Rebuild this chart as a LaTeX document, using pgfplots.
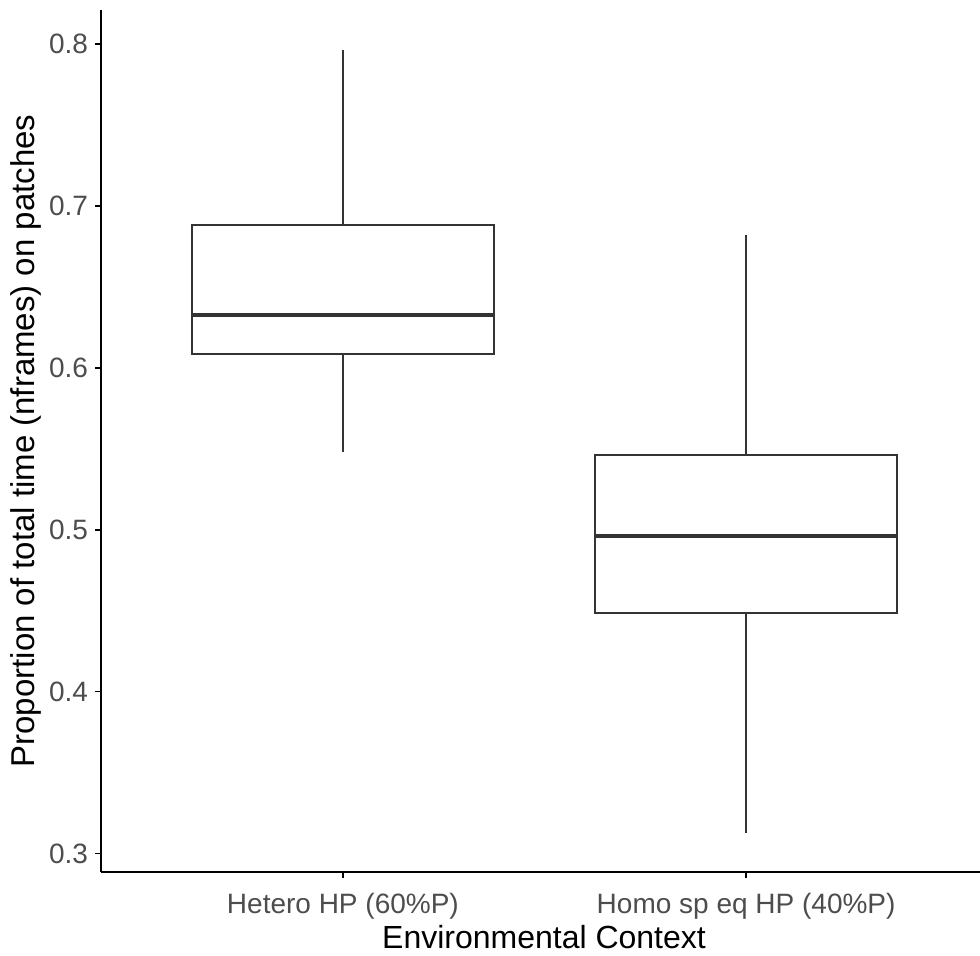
\documentclass[border=0pt]{standalone}
\usepackage{fontspec}
\setmainfont{Liberation Sans}
\usepackage{pgfplots}
\pgfplotsset{compat=1.18}
\usepgfplotslibrary{statistics}
\definecolor{tickgrey}{HTML}{4D4D4D}
\definecolor{boxgrey}{HTML}{333333}
\begin{document}
\begin{tikzpicture}
\begin{axis}[
  scale only axis,
  width=439.5pt, height=431pt,
  xmin=0.4, xmax=2.58,
  ymin=0.2886, ymax=0.821,
  axis x line*=bottom, axis y line*=left,
  axis line style={black, line width=1pt, -},
  xtick={1,2},
  xticklabels={Hetero HP (60\%P), Homo sp eq HP (40\%P)},
  ytick={0.3,0.4,0.5,0.6,0.7,0.8},
  yticklabel style={/pgf/number format/fixed, /pgf/number format/precision=1},
  xticklabel style={yshift=-4pt},
  /pgf/number format/assume math mode=true,
  tick align=outside,
  major tick length=3pt,
  tick style={black, line width=0.8pt},
  ticklabel style={font=\fontsize{14}{16}\selectfont, text=tickgrey},
  xlabel={Environmental Context},
  ylabel={Proportion of total time (nframes) on patches},
  every axis x label/.style={at={(axis description cs:0.504,-0.0754)}, anchor=center, font=\fontsize{16}{19}\selectfont, text=black},
  every axis y label/.style={at={(axis description cs:-0.0853,0.5)}, anchor=center, rotate=90, font=\fontsize{16.5}{19}\selectfont, text=black},
  clip=false,
  boxplot/draw direction=y,
  boxplot/box extend=0.75,
  boxplot/whisker extend=0,
  boxplot/draw/median/.code={%
    \draw[line width=2pt, boxgrey] (boxplot box cs:\pgfplotsboxplotvalue{median},0) -- (boxplot box cs:\pgfplotsboxplotvalue{median},1);},
]
\addplot[boxgrey, line width=1pt, solid, boxplot prepared={draw position=1,
  lower whisker=0.5478, lower quartile=0.6084, median=0.6327,
  upper quartile=0.6883, upper whisker=0.796}] coordinates {};
\addplot[boxgrey, line width=1pt, solid, boxplot prepared={draw position=2,
  lower whisker=0.3127, lower quartile=0.4483, median=0.4961,
  upper quartile=0.5462, upper whisker=0.6821}] coordinates {};
\coordinate (ll) at (rel axis cs:0,0);
\coordinate (ur) at (rel axis cs:1,1);
\end{axis}
\pgfresetboundingbox
\path (ll) ++(-50.5pt,-41.5pt) coordinate (bbll);
\path (ur) ++(0pt,5pt) coordinate (bbur);
\useasboundingbox (bbll) rectangle (bbur);
\end{tikzpicture}
\end{document}
